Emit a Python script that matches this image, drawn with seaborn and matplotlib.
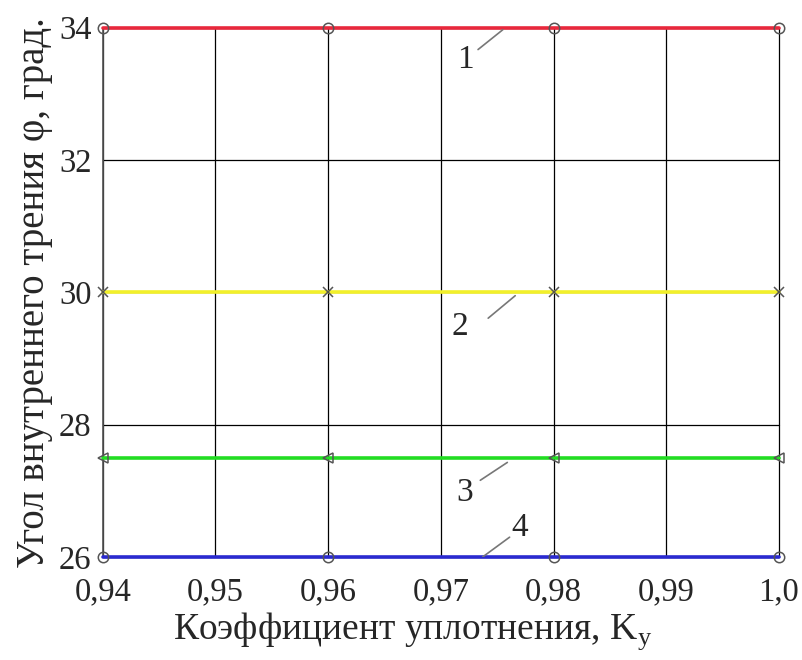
import matplotlib
matplotlib.use("Agg")
import matplotlib.pyplot as plt
import seaborn as sns
import pandas as pd

# Compaction coefficient values and internal friction angle for each curve
k_values = [0.94, 0.96, 0.98, 1.00]
curve_1 = [34.0, 34.0, 34.0, 34.0]
curve_2 = [30.0, 30.0, 30.0, 30.0]
curve_3 = [27.5, 27.5, 27.5, 27.5]
curve_4 = [26.0, 26.0, 26.0, 26.0]

curve_names = ["1", "2", "3", "4"]
x_ticks = [0.94, 0.95, 0.96, 0.97, 0.98, 0.99, 1.00]
x_tick_labels = ["0,94", "0,95", "0,96", "0,97", "0,98", "0,99", "1,0"]
y_ticks = [26, 28, 30, 32, 34]

df = pd.DataFrame({
    "k": k_values * 4,
    "phi": curve_1 + curve_2 + curve_3 + curve_4,
    "curve": sum([[n] * len(k_values) for n in curve_names], []),
})

sns.set_style("white")
plt.rcParams["font.family"] = ["Liberation Serif", "DejaVu Serif"]

fig = plt.figure(figsize=(8.03, 6.6), dpi=100)
ax = fig.add_axes([0.128, 0.156, 0.842, 0.802])

styles = {
    "1": dict(color="#e8283c", marker="o"),
    "2": dict(color="#f2f02a", marker="x"),
    "3": dict(color="#22dd22", marker="<"),
    "4": dict(color="#2a2ad0", marker="o"),
}

for name in curve_names:
    sub = df[df["curve"] == name]
    st = styles[name]
    sns.lineplot(data=sub, x="k", y="phi", ax=ax, color=st["color"],
                 linewidth=2.6, clip_on=False, zorder=3, legend=False)
    ax.plot(sub["k"], sub["phi"], linestyle="none", marker=st["marker"],
            markersize=7.5, markerfacecolor="none", markeredgecolor="#555555",
            markeredgewidth=1.1, clip_on=False, zorder=4)

ax.set_xlim(0.94, 1.00)
ax.set_ylim(26, 34)
ax.set_xticks(x_ticks)
ax.set_xticklabels(x_tick_labels)
ax.set_yticks(y_ticks)
ax.set_yticklabels([str(v) for v in y_ticks])
ax.grid(True, color="black", linewidth=0.9)
for gl in ax.get_xgridlines() + ax.get_ygridlines():
    gl.set_clip_on(False)
ax.tick_params(axis="both", labelsize=23.5, length=0)
ax.tick_params(axis="x", pad=14)
ax.tick_params(axis="y", pad=8)

for side in ["top", "right", "bottom"]:
    ax.spines[side].set_visible(False)
ax.spines["left"].set_color("#555555")
ax.spines["left"].set_linewidth(1.2)

ax.set_xlabel("Коэффициент уплотнения, K$_\\mathregular{y}$", fontsize=27, labelpad=6)
ax.xaxis.set_label_coords(0.458, -0.1)
ax.set_ylabel("Угол внутреннего трения φ, град.", fontsize=28, labelpad=4)

# Curve numbers with leader lines
labels = [
    ("1", 0.9722, 33.52, (0.9733, 33.67), (0.9755, 33.97)),
    ("2", 0.9717, 29.48, (0.9742, 29.61), (0.9766, 29.95)),
    ("3", 0.9721, 26.97, (0.9735, 27.16), (0.9759, 27.43)),
    ("4", 0.9770, 26.45, (0.9737, 26.00), (0.9761, 26.30)),
]
for txt, tx, ty, p0, p1 in labels:
    ax.text(tx, ty, txt, fontsize=24, ha="center", va="center", zorder=5)
    ax.plot([p0[0], p1[0]], [p0[1], p1[1]], color="#777777", linewidth=1.2, zorder=5)

fig.savefig("out.png", dpi=100)
